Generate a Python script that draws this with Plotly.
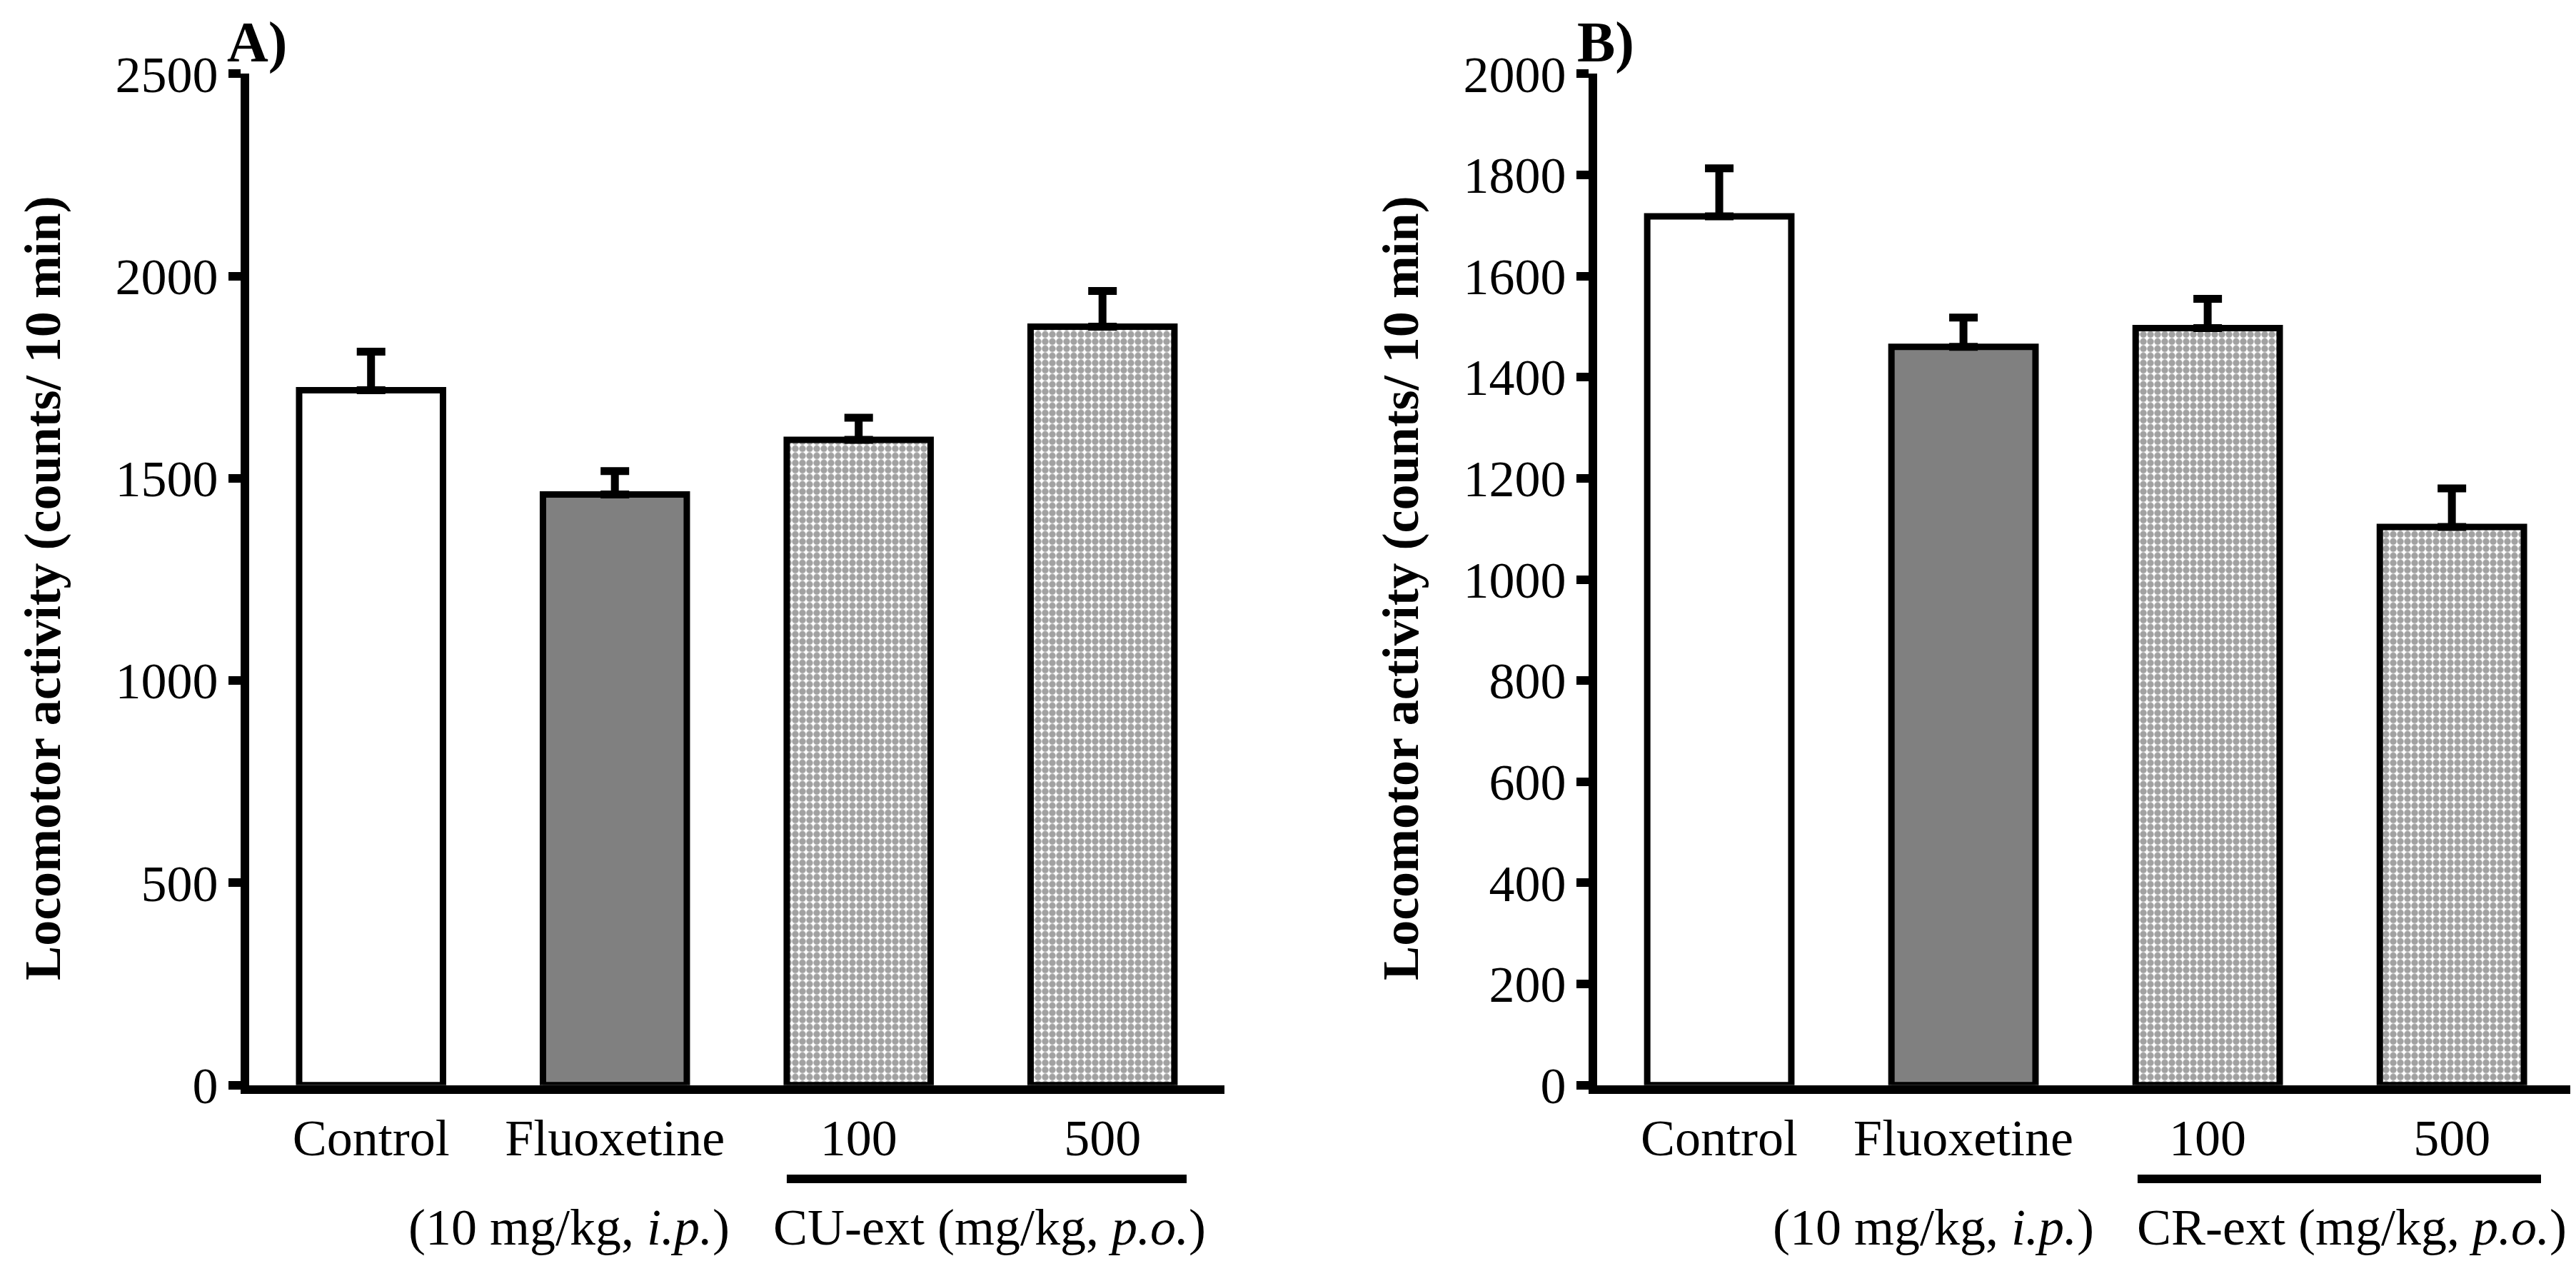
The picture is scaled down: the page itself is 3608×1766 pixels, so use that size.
import plotly.graph_objects as go

# data
groups = ["Control", "Fluoxetine", "100", "500"]
cu_mean = [1718, 1460, 1595, 1875]
cu_sem = [95, 58, 55, 88]
cr_mean = [1718, 1460, 1497, 1104]
cr_sem = [95, 58, 58, 76]
ticks_a = [0, 500, 1000, 1500, 2000, 2500]
ticks_b = [0, 200, 400, 600, 800, 1000, 1200, 1400, 1600, 1800, 2000]

W, H = 3608, 1766
serif = "Liberation Serif, Times New Roman, serif"
fills = ["white", "#808080", "white", "white"]
shapes_ = ["", "", ".", "."]

def bars(y, err, xa, ya):
    return go.Bar(
        x=groups, y=y, xaxis=xa, yaxis=ya, width=0.59,
        marker=dict(color=fills, line=dict(color="black", width=9),
                    pattern=dict(shape=shapes_, fgcolor="black", bgcolor="white",
                                 size=10, solidity=0.7)),
        error_y=dict(type="data", array=err, arrayminus=[0] * 4, symmetric=False,
                     color="black", thickness=11, width=20),
        showlegend=False)

fig = go.Figure()
fig.add_trace(bars(cu_mean, cu_sem, "x", "y"))
fig.add_trace(bars(cr_mean, cr_sem, "x2", "y2"))

xa = dict(type="category", range=[-0.5, 3.5], showline=True, linecolor="black",
          linewidth=12, ticks="", showgrid=False, zeroline=False, automargin=False,
          tickfont=dict(family=serif, size=72, color="black"))
ya = dict(showline=True, linecolor="black", linewidth=12, ticks="outside",
          ticklen=17, tickwidth=12, tickcolor="black", showgrid=False,
          zeroline=False, automargin=False, domain=[0.144, 0.946],
          tickfont=dict(family=serif, size=72, color="black"))

fig.update_layout(
    width=W, height=H, margin=dict(l=0, r=0, t=0, b=0),
    plot_bgcolor="white", paper_bgcolor="white", bargap=0.41,
    xaxis=dict(xa, domain=[0.0945, 0.4731], anchor="y"),
    xaxis2=dict(xa, domain=[0.6178, 0.997], anchor="y2"),
    yaxis=dict(ya, range=[0, 2500], tickvals=ticks_a, anchor="x"),
    yaxis2=dict(ya, range=[0, 2000], tickvals=ticks_b, anchor="x2"),
)

ytitle = "<b>Locomotor activity (counts/ 10 min)</b>"
txt = dict(family=serif, size=72, color="black")
ann = [
    dict(x=52 / W, y=0.538, text=ytitle, textangle=-90),
    dict(x=1954 / W, y=0.538, text=ytitle, textangle=-90),
    dict(x=308 / W, y=1 - 5 / H, text="<b>A)</b>", xanchor="left", yanchor="top",
         font=dict(family=serif, size=80, color="black")),
    dict(x=2199 / W, y=1 - 5 / H, text="<b>B)</b>", xanchor="left", yanchor="top",
         font=dict(family=serif, size=80, color="black")),
    dict(x=1016 / W, y=0.031, text="(10 mg/kg, <i>i.p.</i>)", xanchor="right"),
    dict(x=1073 / W, y=0.031, text="CU-ext (mg/kg, <i>p.o.</i>)", xanchor="left"),
    dict(x=2927 / W, y=0.031, text="(10 mg/kg, <i>i.p.</i>)", xanchor="right"),
    dict(x=2983 / W, y=0.031, text="CR-ext (mg/kg, <i>p.o.</i>)", xanchor="left"),
]
for a in ann:
    a.setdefault("xanchor", "center")
    a.setdefault("yanchor", "middle")
    a.setdefault("font", txt)
    fig.add_annotation(xref="paper", yref="paper", showarrow=False, **a)

# underline under the extract doses
fig.add_shape(type="line", xref="x", yref="paper", x0=1.705, x1=3.345,
              y0=0.0696, y1=0.0696, line=dict(color="black", width=12))
fig.add_shape(type="line", xref="x2", yref="paper", x0=1.713, x1=3.365,
              y0=0.0696, y1=0.0696, line=dict(color="black", width=12))

fig.write_html("out.html")
